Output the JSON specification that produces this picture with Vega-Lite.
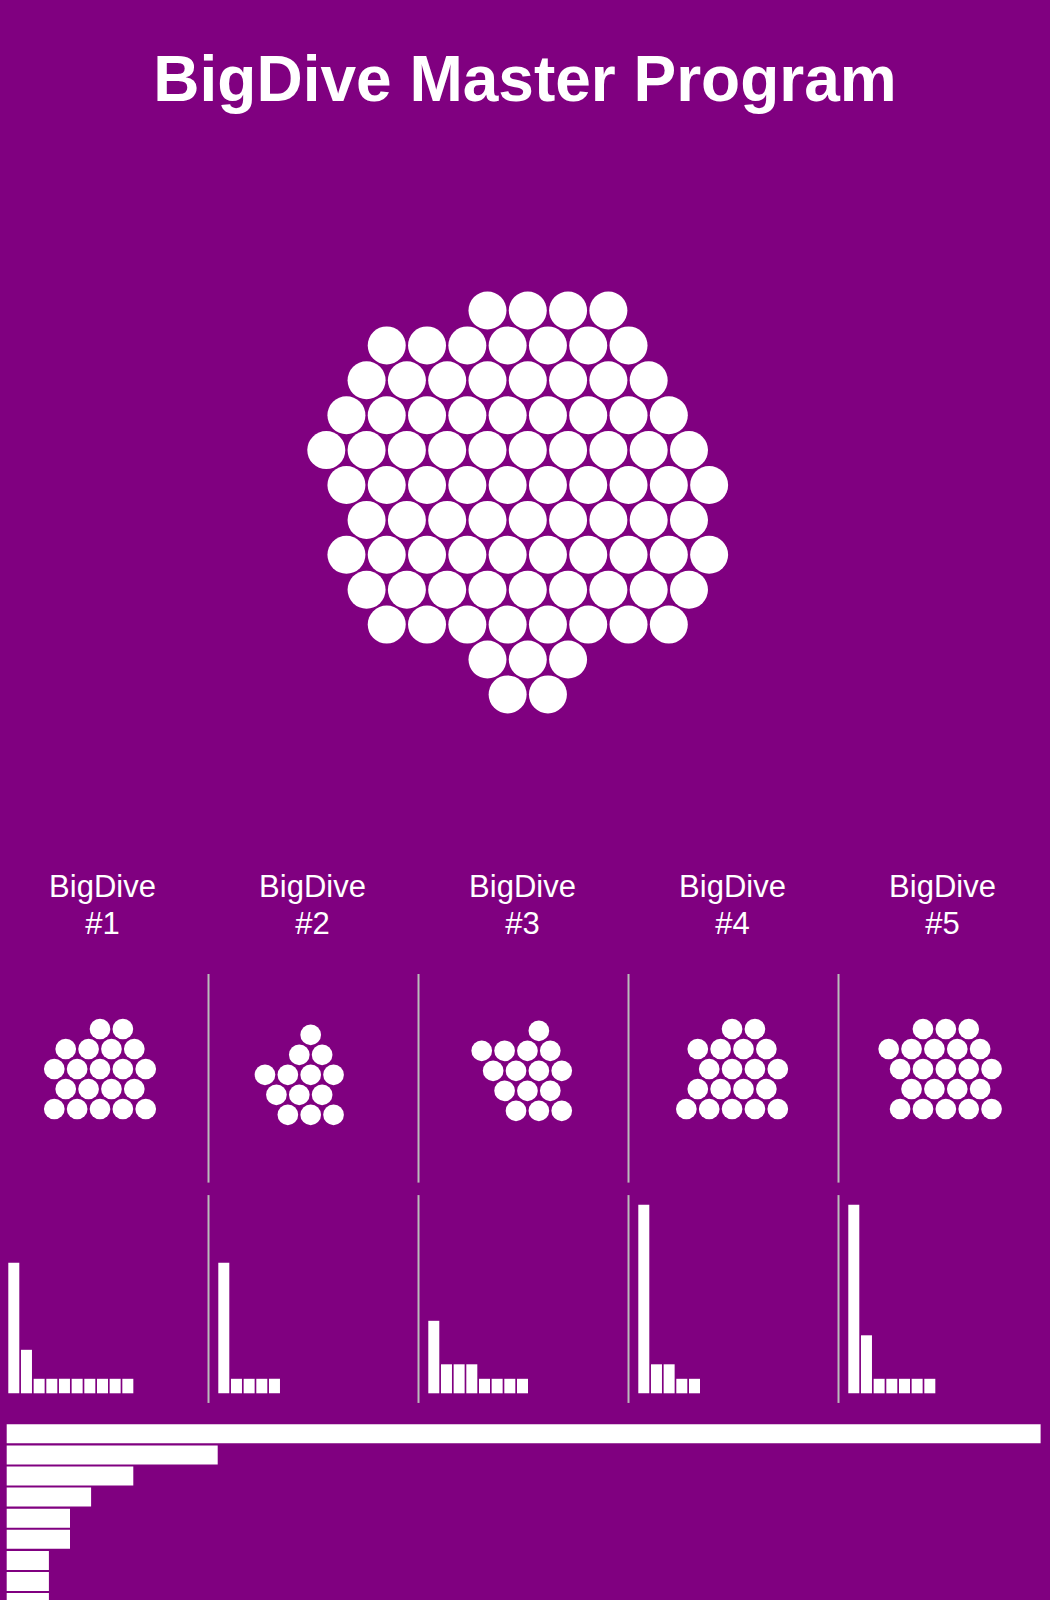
{
  "$schema": "https://vega.github.io/schema/vega-lite/v6.json",
  "background": "#800080",
  "padding": {"top": 50, "left": 0, "right": 0, "bottom": 0},
  "spacing": 10,
  "title": {"text": "BigDive Master Program", "fontSize": 64, "font": "Liberation Sans", "fontWeight": "bold", "color": "white", "anchor": "middle", "offset": 36},
  "config": {"view": {"stroke": null}},
  "datasets": {
    "participants": [
      {"row": 1, "hx": 8}, {"row": 1, "hx": 10}, {"row": 1, "hx": 12}, {"row": 1, "hx": 14},
      {"row": 2, "hx": 3}, {"row": 2, "hx": 5}, {"row": 2, "hx": 7}, {"row": 2, "hx": 9}, {"row": 2, "hx": 11}, {"row": 2, "hx": 13}, {"row": 2, "hx": 15},
      {"row": 3, "hx": 2}, {"row": 3, "hx": 4}, {"row": 3, "hx": 6}, {"row": 3, "hx": 8}, {"row": 3, "hx": 10}, {"row": 3, "hx": 12}, {"row": 3, "hx": 14}, {"row": 3, "hx": 16},
      {"row": 4, "hx": 1}, {"row": 4, "hx": 3}, {"row": 4, "hx": 5}, {"row": 4, "hx": 7}, {"row": 4, "hx": 9}, {"row": 4, "hx": 11}, {"row": 4, "hx": 13}, {"row": 4, "hx": 15}, {"row": 4, "hx": 17},
      {"row": 5, "hx": 0}, {"row": 5, "hx": 2}, {"row": 5, "hx": 4}, {"row": 5, "hx": 6}, {"row": 5, "hx": 8}, {"row": 5, "hx": 10}, {"row": 5, "hx": 12}, {"row": 5, "hx": 14}, {"row": 5, "hx": 16}, {"row": 5, "hx": 18},
      {"row": 6, "hx": 1}, {"row": 6, "hx": 3}, {"row": 6, "hx": 5}, {"row": 6, "hx": 7}, {"row": 6, "hx": 9}, {"row": 6, "hx": 11}, {"row": 6, "hx": 13}, {"row": 6, "hx": 15}, {"row": 6, "hx": 17}, {"row": 6, "hx": 19},
      {"row": 7, "hx": 2}, {"row": 7, "hx": 4}, {"row": 7, "hx": 6}, {"row": 7, "hx": 8}, {"row": 7, "hx": 10}, {"row": 7, "hx": 12}, {"row": 7, "hx": 14}, {"row": 7, "hx": 16}, {"row": 7, "hx": 18},
      {"row": 8, "hx": 1}, {"row": 8, "hx": 3}, {"row": 8, "hx": 5}, {"row": 8, "hx": 7}, {"row": 8, "hx": 9}, {"row": 8, "hx": 11}, {"row": 8, "hx": 13}, {"row": 8, "hx": 15}, {"row": 8, "hx": 17}, {"row": 8, "hx": 19},
      {"row": 9, "hx": 2}, {"row": 9, "hx": 4}, {"row": 9, "hx": 6}, {"row": 9, "hx": 8}, {"row": 9, "hx": 10}, {"row": 9, "hx": 12}, {"row": 9, "hx": 14}, {"row": 9, "hx": 16}, {"row": 9, "hx": 18},
      {"row": 10, "hx": 3}, {"row": 10, "hx": 5}, {"row": 10, "hx": 7}, {"row": 10, "hx": 9}, {"row": 10, "hx": 11}, {"row": 10, "hx": 13}, {"row": 10, "hx": 15}, {"row": 10, "hx": 17},
      {"row": 11, "hx": 8}, {"row": 11, "hx": 10}, {"row": 11, "hx": 12},
      {"row": 12, "hx": 9}, {"row": 12, "hx": 11}
    ],
    "cohortCircles": [
      {"cohort": "BigDive #1", "x": 8.75, "y": 9.45}, {"cohort": "BigDive #1", "x": 10.75, "y": 9.45},
      {"cohort": "BigDive #1", "x": 5.75, "y": 10.45}, {"cohort": "BigDive #1", "x": 7.75, "y": 10.45}, {"cohort": "BigDive #1", "x": 9.75, "y": 10.45}, {"cohort": "BigDive #1", "x": 11.75, "y": 10.45},
      {"cohort": "BigDive #1", "x": 4.75, "y": 11.45}, {"cohort": "BigDive #1", "x": 6.75, "y": 11.45}, {"cohort": "BigDive #1", "x": 8.75, "y": 11.45}, {"cohort": "BigDive #1", "x": 10.75, "y": 11.45}, {"cohort": "BigDive #1", "x": 12.75, "y": 11.45},
      {"cohort": "BigDive #1", "x": 5.75, "y": 12.45}, {"cohort": "BigDive #1", "x": 7.75, "y": 12.45}, {"cohort": "BigDive #1", "x": 9.75, "y": 12.45}, {"cohort": "BigDive #1", "x": 11.75, "y": 12.45},
      {"cohort": "BigDive #1", "x": 4.75, "y": 13.45}, {"cohort": "BigDive #1", "x": 6.75, "y": 13.45}, {"cohort": "BigDive #1", "x": 8.75, "y": 13.45}, {"cohort": "BigDive #1", "x": 10.75, "y": 13.45}, {"cohort": "BigDive #1", "x": 12.75, "y": 13.45},
      {"cohort": "BigDive #2", "x": 8.81, "y": 9.74},
      {"cohort": "BigDive #2", "x": 7.81, "y": 10.74}, {"cohort": "BigDive #2", "x": 9.81, "y": 10.74},
      {"cohort": "BigDive #2", "x": 4.81, "y": 11.74}, {"cohort": "BigDive #2", "x": 6.81, "y": 11.74}, {"cohort": "BigDive #2", "x": 8.81, "y": 11.74}, {"cohort": "BigDive #2", "x": 10.81, "y": 11.74},
      {"cohort": "BigDive #2", "x": 5.81, "y": 12.74}, {"cohort": "BigDive #2", "x": 7.81, "y": 12.74}, {"cohort": "BigDive #2", "x": 9.81, "y": 12.74},
      {"cohort": "BigDive #2", "x": 6.81, "y": 13.74}, {"cohort": "BigDive #2", "x": 8.81, "y": 13.74}, {"cohort": "BigDive #2", "x": 10.81, "y": 13.74},
      {"cohort": "BigDive #3", "x": 10.40, "y": 9.54},
      {"cohort": "BigDive #3", "x": 5.40, "y": 10.54}, {"cohort": "BigDive #3", "x": 7.40, "y": 10.54}, {"cohort": "BigDive #3", "x": 9.40, "y": 10.54}, {"cohort": "BigDive #3", "x": 11.40, "y": 10.54},
      {"cohort": "BigDive #3", "x": 6.40, "y": 11.54}, {"cohort": "BigDive #3", "x": 8.40, "y": 11.54}, {"cohort": "BigDive #3", "x": 10.40, "y": 11.54}, {"cohort": "BigDive #3", "x": 12.40, "y": 11.54},
      {"cohort": "BigDive #3", "x": 7.40, "y": 12.54}, {"cohort": "BigDive #3", "x": 9.40, "y": 12.54}, {"cohort": "BigDive #3", "x": 11.40, "y": 12.54},
      {"cohort": "BigDive #3", "x": 8.40, "y": 13.54}, {"cohort": "BigDive #3", "x": 10.40, "y": 13.54}, {"cohort": "BigDive #3", "x": 12.40, "y": 13.54},
      {"cohort": "BigDive #4", "x": 8.93, "y": 9.45}, {"cohort": "BigDive #4", "x": 10.93, "y": 9.45},
      {"cohort": "BigDive #4", "x": 5.93, "y": 10.45}, {"cohort": "BigDive #4", "x": 7.93, "y": 10.45}, {"cohort": "BigDive #4", "x": 9.93, "y": 10.45}, {"cohort": "BigDive #4", "x": 11.93, "y": 10.45},
      {"cohort": "BigDive #4", "x": 6.93, "y": 11.45}, {"cohort": "BigDive #4", "x": 8.93, "y": 11.45}, {"cohort": "BigDive #4", "x": 10.93, "y": 11.45}, {"cohort": "BigDive #4", "x": 12.93, "y": 11.45},
      {"cohort": "BigDive #4", "x": 5.93, "y": 12.45}, {"cohort": "BigDive #4", "x": 7.93, "y": 12.45}, {"cohort": "BigDive #4", "x": 9.93, "y": 12.45}, {"cohort": "BigDive #4", "x": 11.93, "y": 12.45},
      {"cohort": "BigDive #4", "x": 4.93, "y": 13.45}, {"cohort": "BigDive #4", "x": 6.93, "y": 13.45}, {"cohort": "BigDive #4", "x": 8.93, "y": 13.45}, {"cohort": "BigDive #4", "x": 10.93, "y": 13.45}, {"cohort": "BigDive #4", "x": 12.93, "y": 13.45},
      {"cohort": "BigDive #5", "x": 7.26, "y": 9.45}, {"cohort": "BigDive #5", "x": 9.26, "y": 9.45}, {"cohort": "BigDive #5", "x": 11.26, "y": 9.45},
      {"cohort": "BigDive #5", "x": 4.26, "y": 10.45}, {"cohort": "BigDive #5", "x": 6.26, "y": 10.45}, {"cohort": "BigDive #5", "x": 8.26, "y": 10.45}, {"cohort": "BigDive #5", "x": 10.26, "y": 10.45}, {"cohort": "BigDive #5", "x": 12.26, "y": 10.45},
      {"cohort": "BigDive #5", "x": 5.26, "y": 11.45}, {"cohort": "BigDive #5", "x": 7.26, "y": 11.45}, {"cohort": "BigDive #5", "x": 9.26, "y": 11.45}, {"cohort": "BigDive #5", "x": 11.26, "y": 11.45}, {"cohort": "BigDive #5", "x": 13.26, "y": 11.45},
      {"cohort": "BigDive #5", "x": 6.26, "y": 12.45}, {"cohort": "BigDive #5", "x": 8.26, "y": 12.45}, {"cohort": "BigDive #5", "x": 10.26, "y": 12.45}, {"cohort": "BigDive #5", "x": 12.26, "y": 12.45},
      {"cohort": "BigDive #5", "x": 5.26, "y": 13.45}, {"cohort": "BigDive #5", "x": 7.26, "y": 13.45}, {"cohort": "BigDive #5", "x": 9.26, "y": 13.45}, {"cohort": "BigDive #5", "x": 11.26, "y": 13.45}, {"cohort": "BigDive #5", "x": 13.26, "y": 13.45}
    ],
    "cohortBars": [
      {"cohort": "BigDive #1", "rank": 1, "n": 9}, {"cohort": "BigDive #1", "rank": 2, "n": 3}, {"cohort": "BigDive #1", "rank": 3, "n": 1}, {"cohort": "BigDive #1", "rank": 4, "n": 1}, {"cohort": "BigDive #1", "rank": 5, "n": 1}, {"cohort": "BigDive #1", "rank": 6, "n": 1}, {"cohort": "BigDive #1", "rank": 7, "n": 1}, {"cohort": "BigDive #1", "rank": 8, "n": 1}, {"cohort": "BigDive #1", "rank": 9, "n": 1}, {"cohort": "BigDive #1", "rank": 10, "n": 1},
      {"cohort": "BigDive #2", "rank": 1, "n": 9}, {"cohort": "BigDive #2", "rank": 2, "n": 1}, {"cohort": "BigDive #2", "rank": 3, "n": 1}, {"cohort": "BigDive #2", "rank": 4, "n": 1}, {"cohort": "BigDive #2", "rank": 5, "n": 1},
      {"cohort": "BigDive #3", "rank": 1, "n": 5}, {"cohort": "BigDive #3", "rank": 2, "n": 2}, {"cohort": "BigDive #3", "rank": 3, "n": 2}, {"cohort": "BigDive #3", "rank": 4, "n": 2}, {"cohort": "BigDive #3", "rank": 5, "n": 1}, {"cohort": "BigDive #3", "rank": 6, "n": 1}, {"cohort": "BigDive #3", "rank": 7, "n": 1}, {"cohort": "BigDive #3", "rank": 8, "n": 1},
      {"cohort": "BigDive #4", "rank": 1, "n": 13}, {"cohort": "BigDive #4", "rank": 2, "n": 2}, {"cohort": "BigDive #4", "rank": 3, "n": 2}, {"cohort": "BigDive #4", "rank": 4, "n": 1}, {"cohort": "BigDive #4", "rank": 5, "n": 1},
      {"cohort": "BigDive #5", "rank": 1, "n": 13}, {"cohort": "BigDive #5", "rank": 2, "n": 4}, {"cohort": "BigDive #5", "rank": 3, "n": 1}, {"cohort": "BigDive #5", "rank": 4, "n": 1}, {"cohort": "BigDive #5", "rank": 5, "n": 1}, {"cohort": "BigDive #5", "rank": 6, "n": 1}, {"cohort": "BigDive #5", "rank": 7, "n": 1}
    ],
    "overall": [
      {"rank": 1, "n": 49}, {"rank": 2, "n": 10}, {"rank": 3, "n": 6}, {"rank": 4, "n": 4}, {"rank": 5, "n": 3}, {"rank": 6, "n": 3}, {"rank": 7, "n": 2}, {"rank": 8, "n": 2}, {"rank": 9, "n": 2}
    ]
  },
  "vconcat": [
    {
      "data": {"name": "participants"},
      "width": 1050,
      "height": 680,
      "mark": {"type": "circle", "size": 1444, "color": "white", "opacity": 1},
      "encoding": {
        "x": {"field": "hx", "type": "quantitative", "scale": {"domain": [-16.193, 35.917], "zero": false, "nice": false, "padding": 0}, "axis": null},
        "y": {"field": "row", "type": "quantitative", "scale": {"domain": [-3.599, 15.885], "reverse": true, "zero": false, "nice": false, "padding": 0}, "axis": null}
      }
    },
    {
      "data": {"name": "cohortCircles"},
      "facet": {"column": {"field": "cohort", "type": "nominal", "header": {"labels": false, "title": null}}},
      "spacing": {"column": 0},
      "bounds": "flush",
      "spec": {
        "width": 210,
        "height": 344,
        "layer": [
          {
            "mark": {"type": "circle", "size": 428, "color": "white", "opacity": 1},
            "encoding": {
              "x": {"field": "x", "type": "quantitative", "scale": {"domain": [0, 18.373], "zero": false, "nice": false, "padding": 0}, "axis": null},
              "y": {"field": "y", "type": "quantitative", "scale": {"domain": [0, 17.2], "reverse": true, "zero": false, "nice": false, "padding": 0}, "axis": null}
            }
          },
          {
            "transform": [{"aggregate": [{"op": "count", "as": "people"}], "groupby": ["cohort"]}],
            "mark": {"type": "text", "color": "white", "font": "Liberation Sans", "fontSize": 31, "lineHeight": 37, "baseline": "alphabetic", "align": "center", "lineBreak": " "},
            "encoding": {
              "x": {"datum": 8.97, "type": "quantitative", "scale": {"domain": [0, 18.373], "zero": false, "nice": false, "padding": 0}, "axis": null},
              "y": {"datum": 2.865, "type": "quantitative", "scale": {"domain": [0, 17.2], "reverse": true, "zero": false, "nice": false, "padding": 0}, "axis": null},
              "text": {"field": "cohort", "type": "nominal"}
            }
          },
          {
            "transform": [{"filter": "datum.cohort !== 'BigDive #1'"}, {"aggregate": [{"op": "count", "as": "people"}], "groupby": ["cohort"]}],
            "mark": {"type": "rule", "color": "#bbbbbb", "strokeWidth": 2},
            "encoding": {
              "x": {"datum": -0.131, "type": "quantitative", "scale": {"domain": [0, 18.373], "zero": false, "nice": false, "padding": 0}, "axis": null},
              "y": {"datum": 6.7, "type": "quantitative", "scale": {"domain": [0, 17.2], "reverse": true, "zero": false, "nice": false, "padding": 0}, "axis": null},
              "y2": {"datum": 17.13}
            }
          }
        ]
      }
    },
    {
      "data": {"name": "cohortBars"},
      "facet": {"column": {"field": "cohort", "type": "nominal", "header": {"labels": false, "title": null}}},
      "spacing": {"column": 0},
      "bounds": "flush",
      "spec": {
        "width": 210,
        "height": 210,
        "layer": [
          {
            "mark": {"type": "bar", "color": "white", "orient": "vertical", "width": 11},
            "encoding": {
              "x": {"field": "rank", "type": "quantitative", "scale": {"domain": [-0.089, 16.486], "zero": false, "nice": false, "padding": 0}, "axis": null},
              "y": {"field": "n", "type": "quantitative", "scale": {"domain": [-0.738, 13.745], "zero": false, "nice": false, "padding": 0}, "axis": null}
            }
          },
          {
            "transform": [{"filter": "datum.cohort !== 'BigDive #1'"}, {"aggregate": [{"op": "count", "as": "countries"}], "groupby": ["cohort"]}],
            "mark": {"type": "rule", "color": "#bbbbbb", "strokeWidth": 2},
            "encoding": {
              "x": {"datum": -0.207, "type": "quantitative", "scale": {"domain": [-0.089, 16.486], "zero": false, "nice": false, "padding": 0}, "axis": null},
              "y": {"datum": 13.67, "type": "quantitative", "scale": {"domain": [-0.738, 13.745], "zero": false, "nice": false, "padding": 0}, "axis": null},
              "y2": {"datum": -0.665}
            }
          }
        ]
      }
    },
    {
      "data": {"name": "overall"},
      "width": 1050,
      "height": 186,
      "mark": {"type": "bar", "color": "white", "orient": "horizontal", "height": 19, "clip": true},
      "encoding": {
        "x": {"field": "n", "type": "quantitative", "scale": {"domain": [-0.3175, 49.445], "zero": false, "nice": false, "padding": 0}, "axis": null},
        "y": {"field": "rank", "type": "quantitative", "scale": {"domain": [0.062, 8.877], "reverse": true, "zero": false, "nice": false, "padding": 0}, "axis": null}
      }
    }
  ]
}
